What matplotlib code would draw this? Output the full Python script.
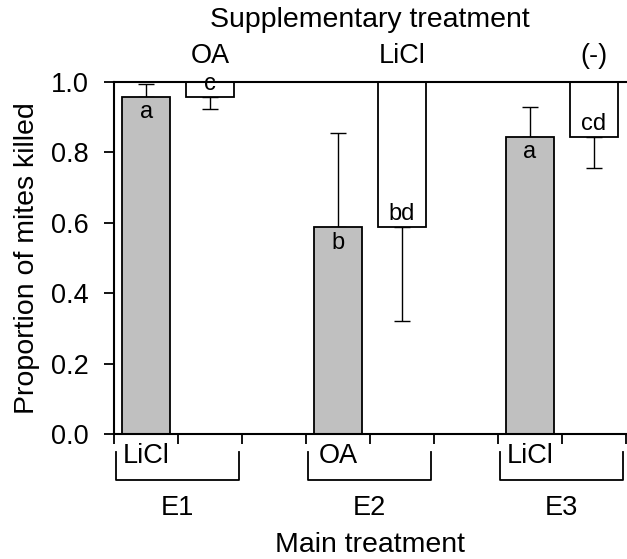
import numpy as np
import matplotlib
matplotlib.use('Agg')
import matplotlib.pyplot as plt

plt.rcParams['font.family'] = ['Liberation Sans', 'DejaVu Sans']

groups = ['E1', 'E2', 'E3']
main_labels = ['LiCl', 'OA', 'LiCl']
supp_labels = ['OA', 'LiCl', '(-)']
main_mean = [0.957, 0.587, 0.843]
main_err = [0.036, 0.269, 0.087]
main_letters = ['a', 'b', 'a']
supp_mean = [0.957, 0.589, 0.843]
supp_err = [0.034, 0.269, 0.087]
supp_letters = ['c', 'bd', 'cd']

fs = 20.5
fs_tick = 19.5
fs_let = 17
fig = plt.figure(figsize=(6.27, 5.59), dpi=100)
ax = fig.add_axes([0.182, 0.2236, 0.816, 0.6297])

x_main = np.array([0.5, 3.5, 6.5])
x_supp = x_main + 1
w = 0.75

ax.bar(x_main, main_mean, width=w, color='#c0c0c0', edgecolor='black', linewidth=1.3, zorder=2)
ax.errorbar(x_main, main_mean, yerr=[np.zeros(3), main_err], fmt='none',
            ecolor='black', elinewidth=1, capsize=6, capthick=1, zorder=1)

supp_h = np.array(supp_mean) - 1
ax.bar(x_supp, supp_h, bottom=1, width=w, color='white', edgecolor='black', linewidth=1.3, zorder=2)
ax.errorbar(x_supp, supp_mean, yerr=[supp_err, np.zeros(3)], fmt='none',
            ecolor='black', elinewidth=1, capsize=6, capthick=1, zorder=1)

for xm, m, t in zip(x_main, main_mean, main_letters):
    ax.text(xm, m - 0.012, t, ha='center', va='top', fontsize=fs_let, zorder=3)
for xs, m, t in zip(x_supp, supp_mean, supp_letters):
    ax.text(xs, m + 0.006, t, ha='center', va='bottom', fontsize=fs_let, zorder=3)

ax.set_xlim(0, 8)
ax.set_ylim(0, 1.0)
ax.set_xticks(np.arange(0, 9))
ax.set_xticklabels([])
ax.set_yticks(np.arange(0, 1.01, 0.2))
ax.set_yticklabels([f'{v:.1f}' for v in np.arange(0, 1.01, 0.2)], fontsize=fs_tick)
ax.tick_params(direction='out', length=7, width=1.3)
ax.tick_params(axis='y', pad=11)
ax.spines['right'].set_visible(False)
for s in ['left', 'bottom', 'top']:
    ax.spines[s].set_linewidth(1.5)
ax.set_ylabel('Proportion of mites killed', fontsize=fs, labelpad=8)

tr = ax.get_xaxis_transform()
for xm, xs, ml, sl, g in zip(x_main, x_supp, main_labels, supp_labels, groups):
    ax.text(xm, -0.062, ml, transform=tr, ha='center', va='center', fontsize=fs_tick)
    ax.text(xs, 1.074, sl, transform=tr, ha='center', va='center', fontsize=fs_tick)
    x0, x1 = xm - 0.47, xm + 1.45
    ax.plot([x0, x0, x1, x1], [-0.051, -0.131, -0.131, -0.051], transform=tr,
            color='black', lw=1.3, clip_on=False, solid_joinstyle='round')
    ax.text((x0 + x1) / 2, -0.21, g, transform=tr, ha='center', va='center', fontsize=fs_tick)

ax.text(0.5, -0.315, 'Main treatment', transform=ax.transAxes, ha='center', va='center', fontsize=fs)
ax.text(0.5, 1.176, 'Supplementary treatment', transform=ax.transAxes, ha='center', va='center', fontsize=fs)

fig.savefig('out.png', dpi=100)
